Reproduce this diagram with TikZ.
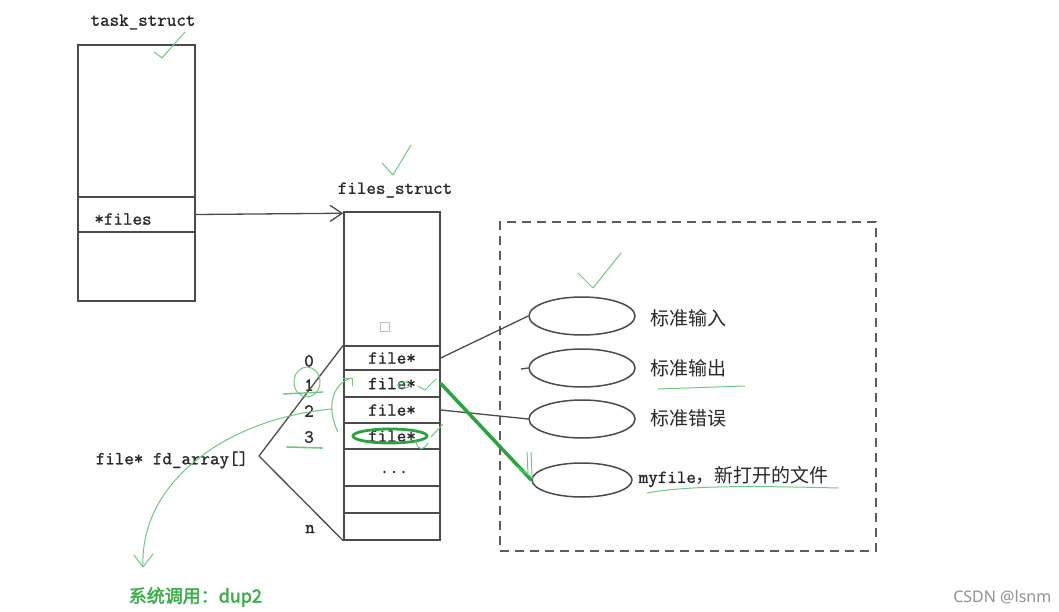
\documentclass[tikz,border=0pt]{standalone}
\usepackage{fontspec}
\newfontfamily\cjk{Noto Sans CJK SC}
\newfontfamily\cjkb{Noto Sans CJK SC}[FakeBold=2.5]
\newfontfamily\wmfont{Noto Sans}
\newfontfamily\monofam{Latin Modern Mono}[FakeBold=1.2]
\usetikzlibrary{shapes.geometric,arrows.meta}
\definecolor{lineg}{RGB}{75,75,75}
\definecolor{txt}{RGB}{40,40,40}
\definecolor{gthin}{RGB}{110,200,130}
\definecolor{gthick}{RGB}{40,165,60}
\definecolor{gtext}{RGB}{60,175,75}
\definecolor{wmc}{RGB}{145,145,145}
\newcommand{\monof}{\fontsize{18.5}{20}\selectfont\monofam}
\newcommand{\cjkf}{\fontsize{19}{21}\selectfont\cjk}
\begin{document}
\begin{tikzpicture}[x=1pt,y=-1pt,line width=1.5pt,
  cellbox/.style={draw=lineg,rectangle,inner sep=0pt,minimum width=#1},
  fcell/.style={draw=lineg,rectangle,inner sep=0pt,minimum width=96pt,minimum height=#1,font=\monof,text=txt},
  mtext/.style={inner sep=0pt,font=\monof,text=txt},
  ctext/.style={inner sep=0pt,font=\cjkf,text=txt,anchor=west},
  oval/.style={draw=lineg,ellipse,inner sep=0pt,minimum width=106pt,minimum height=38pt},
  conn/.style={draw=lineg,line width=1.3pt},
  gpen/.style={draw=gthin,line width=1pt,line cap=round,line join=round},
  gbold/.style={draw=gthick,line width=3.5pt,line cap=round}
]
\useasboundingbox[fill=white] (0,0) rectangle (1059,612);

% task_struct
\node[mtext] (tlabel) at (143,22) {task\_struct};
\node[cellbox=117pt,minimum height=152pt] (tTop) at (136.5,121) {};
\node[cellbox=117pt,minimum height=35pt] (tFiles) at (136.5,214.5) {};
\node[mtext] (tfl) at (123,219) {*files};
\node[cellbox=117pt,minimum height=69pt] (tBot) at (136.5,266.5) {};

% files_struct
\node[mtext] (flabel) at (395,190) {files\_struct};
\node[fcell=134pt] (fTop) at (392,279) {};
\node[draw=gray!50,line width=0.6pt,minimum size=9pt,inner sep=0pt] (sq) at (385,327) {};
\node[fcell=24pt] (r0) at (392,358) {file*};
\node[fcell=27pt] (r1) at (392,383.5) {file*};
\node[fcell=26pt] (r2) at (392,410) {file*};
\node[fcell=26pt] (r3) at (392,436) {file*};
\node[fcell=37pt] (r4) at (392,467.5) {};
\node[mtext] (dots) at (394,472) {...};
\node[fcell=27pt] (r5) at (392,499.5) {};
\node[fcell=27pt] (rn) at (392,526.5) {};

\node[mtext] (i0) at (309,361) {0};
\node[mtext] (i1) at (309,385) {1};
\node[mtext] (i2) at (309,411) {2};
\node[mtext] (i3) at (309,437) {3};
\node[mtext] (in) at (310,529) {n};

\draw[conn,-{Straight Barb[length=12pt,width=16pt]}] (tFiles.east) -- ([yshift=-2pt]fTop.north west);

% fd_array bracket
\node[mtext,anchor=west] (fd) at (95,460) {file* fd\_array[]};
\coordinate (vtx) at (259,456);
\draw[conn] (vtx) -- (r0.north west);
\draw[conn] (vtx) -- (rn.south west);

% dashed region
\node[draw=lineg!90,dash pattern=on 9pt off 6pt,line width=1.4pt,rectangle,inner sep=0pt,minimum width=376pt,minimum height=329pt] (dbox) at (688,386.5) {};

\node[oval] (e1) at (582,316) {};
\node[oval] (e2) at (582,368) {};
\node[oval] (e3) at (582,419) {};
\node[oval,minimum width=100pt,minimum height=34pt] (e4) at (582,480) {};

\node[ctext] (l1) at (650,318) {标准输入};
\node[ctext] (l2) at (650,368) {标准输出};
\node[ctext] (l3) at (650,418) {标准错误};
\node[ctext] (l4) at (638,477) {{\monof myfile}，新打开的文件};

\draw[conn] (r0.east) -- (e1.west);
\coordinate (stub) at (521,369);
\draw[conn] (stub) -- (e2.west);
\draw[conn] (r2.east) -- (e3.west);

% green annotations
\draw[gbold] (r1.east) -- (e4.west);
\draw[gpen] (527,452) -- (528,473);
\draw[gpen] (531,452) -- (532,475);
\draw[gpen] (517,467) -- (533,478);
\draw[draw=gthick,line width=2.8pt] (390,436) ellipse [x radius=37pt,y radius=7pt];

\draw[gpen] (154,52) -- (162,58) -- (185,32);
\draw[gpen] (382,163) -- (393,175) -- (411,145);
\draw[gpen] (578,273) -- (593,288) -- (621,253);

\draw[gpen] (307,382) ellipse [x radius=13pt,y radius=15pt];
\draw[gpen,line width=1.4pt] (283,394) -- (323,392);
\draw[gpen,line width=1.6pt] (287,447) -- (322,448);

\draw[gpen] (332,409) .. controls (230,418) and (140,480) .. (143,566);
\draw[gpen] (134,555) -- (143,567) -- (153,554);

\draw[gpen] (338,432) .. controls (326,408) and (332,384) .. (351,378);
\draw[gpen] (343,378) -- (352,378) -- (352,386);

\draw[gpen] (404,385) ellipse [x radius=6pt,y radius=3pt];
\draw[gpen] (418,386) -- (425,390) -- (436,379);
\draw[gpen] (416,441) .. controls (418,452) and (424,450) .. (428,443);
\draw[gpen] (431,437) -- (443,424);

\draw[gpen] (658,389) -- (745,386);
\draw[gpen] (647,493) .. controls (690,485) and (760,486) .. (838,488);

\node[inner sep=0pt,anchor=west,font=\fontsize{18}{20}\selectfont\cjkb,text=gtext] (dup) at (128,597) {系统调用：dup2};
\node[inner sep=0pt,anchor=east,font=\fontsize{16}{18}\selectfont\wmfont,text=wmc] (wm) at (1052,597) {CSDN @lsnm};
\end{tikzpicture}
\end{document}
